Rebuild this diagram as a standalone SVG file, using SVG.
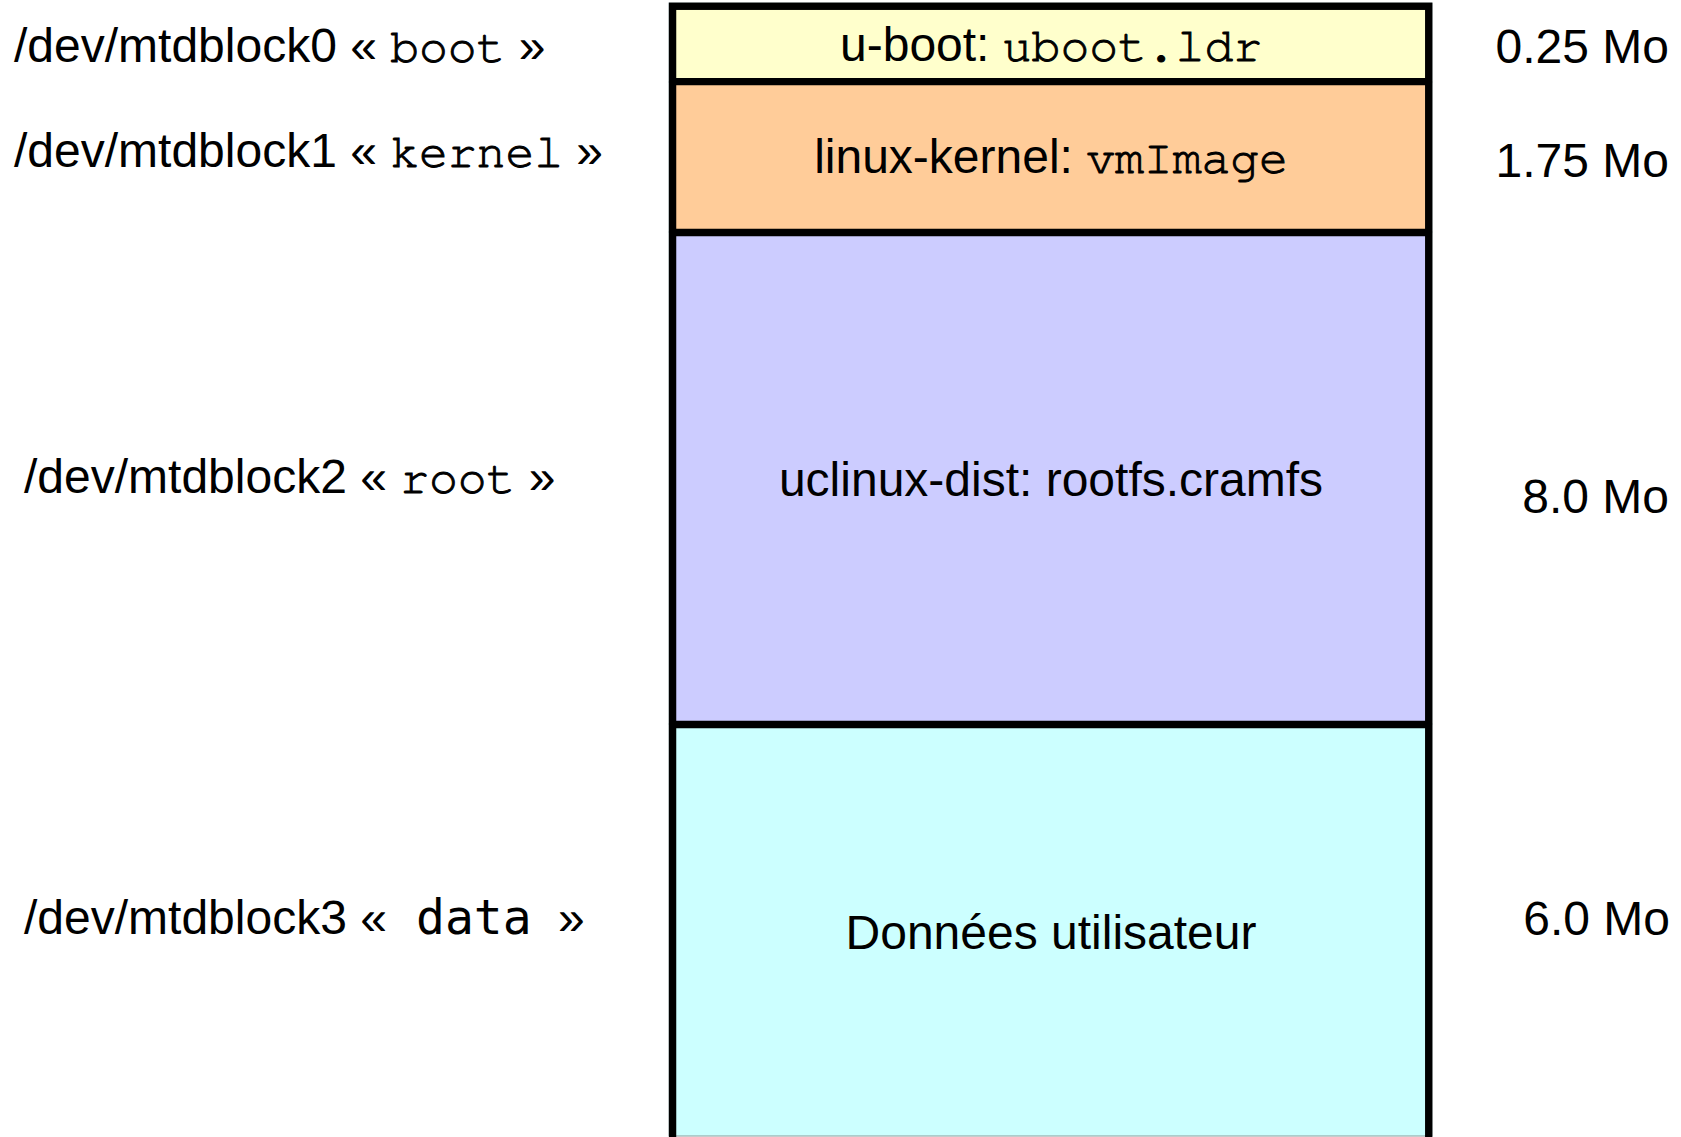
<svg xmlns="http://www.w3.org/2000/svg" width="1681" height="1137" viewBox="0 0 1681 1137">
<style>
.s{font-family:"Liberation Sans",Arial,sans-serif;font-size:48px;fill:#000}
.m{font-family:"Nimbus Mono PS","Nimbus Mono L","FreeMono","Liberation Mono","Courier New",monospace;stroke:#000;stroke-width:1}
.dm{font-family:"DejaVu Sans Mono",monospace}
.c{text-anchor:middle}
.e{text-anchor:end}
.cell{stroke:#8a9a9a;stroke-width:1}
.frame{fill:none;stroke:#000;stroke-width:7.3}
</style>
<rect width="1681" height="1137" fill="#fff"/>
<g id="cell-boot">
<rect class="cell" x="669" y="3" width="763" height="79" fill="#ffffcc"/>
<text class="s c" x="1051" y="61">u-boot: <tspan class="m">uboot.ldr</tspan></text>
</g>
<g id="cell-kernel">
<rect class="cell" x="669" y="82" width="763" height="150" fill="#ffcc99"/>
<text class="s c" x="1051" y="173">linux-kernel: <tspan class="m">vmImage</tspan></text>
</g>
<g id="cell-root">
<rect class="cell" x="669" y="232" width="763" height="492" fill="#ccccff"/>
<text class="s c" x="1051" y="496">uclinux-dist: rootfs.cramfs</text>
</g>
<g id="cell-data">
<rect class="cell" x="669" y="724" width="763" height="412" fill="#ccffff"/>
<text class="s c" x="1051" y="949">Données utilisateur</text>
</g>
<g id="frame">
<rect class="frame" x="672.6" y="6.3" width="756.1" height="1160"/>
<line class="frame" x1="669" y1="81.7" x2="1432" y2="81.7"/>
<line class="frame" x1="669" y1="232.5" x2="1432" y2="232.5"/>
<line class="frame" x1="669" y1="724.5" x2="1432" y2="724.5"/>
</g>
<g id="labels-left">
<text class="s" x="14" y="62">/dev/mtdblock0 « <tspan class="m">boot</tspan> »</text>
<text class="s" x="14" y="167">/dev/mtdblock1 « <tspan class="m">kernel</tspan> »</text>
<text class="s" x="24" y="493">/dev/mtdblock2 « <tspan class="m">root</tspan> »</text>
<text class="s" x="24" y="934">/dev/mtdblock3 «<tspan class="dm" x="416">data</tspan><tspan x="558">»</tspan></text>
</g>
<g id="labels-right">
<text class="s e" x="1669" y="63">0.25 Mo</text>
<text class="s e" x="1669" y="177">1.75 Mo</text>
<text class="s e" x="1669" y="513">8.0 Mo</text>
<text class="s e" x="1670" y="935">6.0 Mo</text>
</g>
</svg>
